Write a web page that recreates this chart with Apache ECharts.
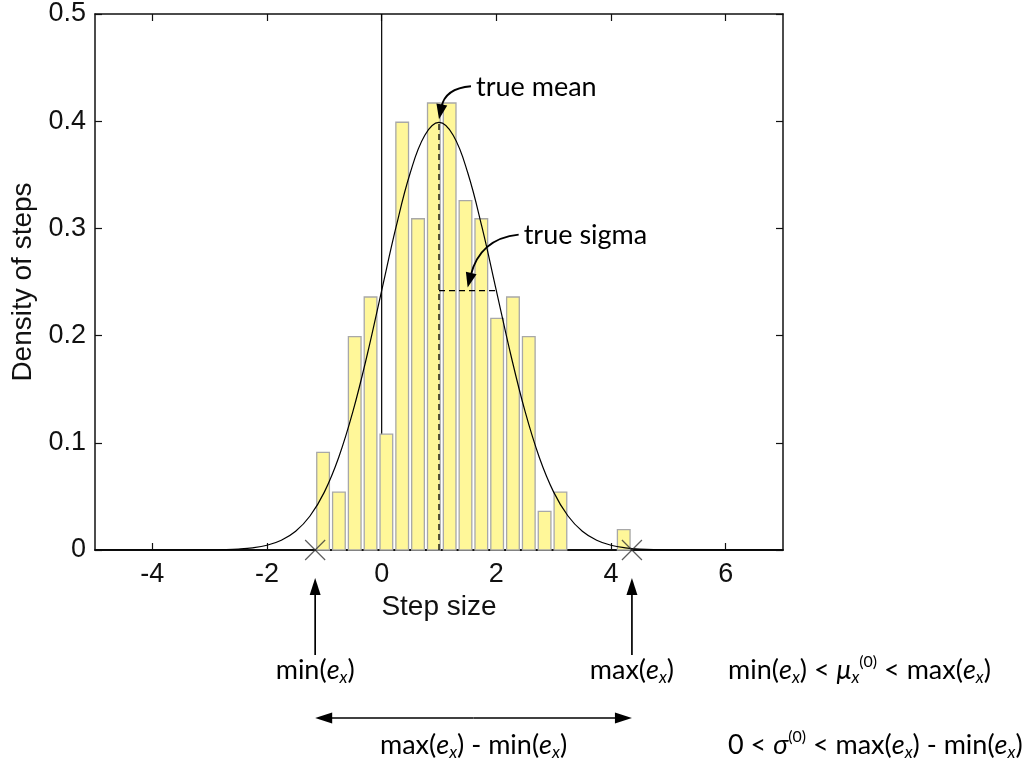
<!DOCTYPE html>
<html><head><meta charset="utf-8">
<script src="https://cdn.jsdelivr.net/npm/echarts@6/dist/echarts.min.js"></script>
<style>html,body{margin:0;padding:0;background:#fff}#c{width:1029px;height:761px}</style>
</head><body><div id="c"></div>
<script>
// ---- data ----
const binCenters = [-1.022,-0.746,-0.470,-0.194,0.082,0.358,0.634,0.910,1.186,1.462,1.738,2.014,2.290,2.566,2.842,3.118,3.394,3.670,3.946,4.222];
const densities  = [0.091,0.054,0.199,0.236,0.108,0.399,0.309,0.417,0.417,0.326,0.309,0.216,0.236,0.199,0.036,0.054,0,0,0,0.019];
const curveX = [-5,-4,-3.5,-3,-2.75,-2.5,-2.25,-2,-1.75,-1.5,-1.25,-1,-0.75,-0.5,-0.25,0,0.25,0.5,0.75,1,1.25,1.5,1.75,2,2.25,2.5,2.75,3,3.25,3.5,3.75,4,4.25,4.5,5,5.5,6,7];
const curveY = [0,0,0.00002,0.00013,0.00035,0.00087,0.0020,0.0044,0.0091,0.0175,0.0317,0.0540,0.0863,0.1295,0.1826,0.2420,0.3011,0.3521,0.3867,0.3989,0.3867,0.3521,0.3011,0.2420,0.1826,0.1295,0.0863,0.0540,0.0317,0.0175,0.0091,0.0044,0.0020,0.00087,0.00013,0.00002,0,0];
const xTicks = [-4,-2,0,2,4,6];
const yTicks = [0,0.1,0.2,0.3,0.4,0.5];
const zeroLineX = 0;
const trueMean = 1, trueSigma = 1, peakDensity = 0.399, sigmaDensity = 0.242;
const minE = -1.16, maxE = 4.365;
const binWidth = 0.276;

const chart = echarts.init(document.getElementById('c'), null, {renderer:'canvas'});
const axisCol = '#111';
const tickFont = {fontFamily:'Liberation Sans, Arial, sans-serif', fontSize:27, color:axisCol};
function xAx(pos, showLabel){
  return {type:'value', min:-5, max:7, position:pos, splitLine:{show:false},
    axisLine:{show:true, onZero:false, lineStyle:{color:axisCol, width: showLabel ? 2 : 1.5}},
    axisTick:{show:true, inside:true, length:7, customValues:xTicks, lineStyle:{color:axisCol, width:1.2}},
    axisLabel:Object.assign({show:showLabel, customValues:xTicks, margin:11}, tickFont),
    name: showLabel ? 'Step size' : '', nameLocation:'middle', nameGap:43,
    nameTextStyle:{fontFamily:'Liberation Sans, Arial, sans-serif', fontSize:28, color:axisCol}};
}
function yAx(pos, showLabel){
  return {type:'value', min:0, max:0.5, position:pos, splitLine:{show:false},
    axisLine:{show:true, onZero:false, lineStyle:{color:axisCol, width:1.5}},
    axisTick:{show:true, inside:true, length:7, customValues:yTicks, lineStyle:{color:axisCol, width:1.2}},
    axisLabel:Object.assign({show:showLabel, customValues:yTicks, margin:9}, tickFont),
    name: showLabel ? 'Density of steps' : '', nameLocation:'middle', nameGap:53,
    nameTextStyle:{fontFamily:'Liberation Sans, Arial, sans-serif', fontSize:28, color:axisCol}};
}

chart.setOption({
  animation:false,
  backgroundColor:'#fff',
  grid:{left:95, top:14, right:246, bottom:211, containLabel:false},
  xAxis:[xAx('bottom', true), xAx('top', false)],
  yAxis:[yAx('left', true), yAx('right', false)],
  series:[
    {type:'line', z:1, symbol:'none', data:[[zeroLineX,0],[zeroLineX,0.5]], lineStyle:{color:'#000', width:1.2}},
    {type:'custom', z:2, data:binCenters.map((c,i)=>[c, densities[i]]),
      renderItem:function(params, api){
        const c = api.value(0), v = api.value(1);
        if (!(v > 0)) return null;
        const half = binWidth * 0.4;
        const p1 = api.coord([c - half, v]);
        const p2 = api.coord([c + half, 0]);
        return {type:'rect', shape:{x:p1[0], y:p1[1], width:p2[0]-p1[0], height:p2[1]-p1[1]},
          style:{fill:'#fff799', stroke:'#a8a8a8', lineWidth:1.3}};
      }},
    {type:'line', z:3, symbol:'none', smooth:0.4, data:curveX.map((x,i)=>[x, curveY[i]]), lineStyle:{color:'#000', width:1.2}},
    {type:'line', z:4, symbol:'none', data:[[trueMean,0],[trueMean,peakDensity]], lineStyle:{color:'#000', width:1.3, type:[6,4]}},
    {type:'line', z:4, symbol:'none', data:[[trueMean,sigmaDensity],[trueMean+trueSigma,sigmaDensity]], lineStyle:{color:'#000', width:1.3, type:[6,4]}},
    {type:'scatter', z:5, clip:false, symbol:'path://M0,0L10,10M10,0L0,10', symbolSize:20,
      data:[[minE,0],[maxE,0]], itemStyle:{color:'none', borderColor:'#333', borderWidth:1.2}}
  ]
});

// ---- annotations anchored to data coordinates ----
const px = p => chart.convertToPixel({xAxisIndex:0, yAxisIndex:0}, p);
const F = 'Lato, "Open Sans", sans-serif';
const rich = {
  n:{fontFamily:F, fontSize:27, lineHeight:34, fill:'#000'},
  i:{fontFamily:F, fontSize:27, lineHeight:34, fontStyle:'italic', fill:'#000'},
  s:{fontFamily:F, fontSize:17, lineHeight:17, fontStyle:'italic', padding:[16,0,0,0], fill:'#000'},
  p:{fontFamily:F, fontSize:16, lineHeight:16, padding:[0,0,16,0], fill:'#000'}
};
function txt(x, y, text, align){
  return {type:'text', x:x, y:y, z:10, style:{text:text, rich:rich, align:align||'left', verticalAlign:'middle', fill:'#000', fontFamily:F, fontSize:27}};
}
function head(tip, from, len, wid){
  const dx = tip[0]-from[0], dy = tip[1]-from[1], L = Math.hypot(dx,dy);
  const ux = dx/L, uy = dy/L, bx = tip[0]-ux*len, by = tip[1]-uy*len, nx = -uy, ny = ux;
  return {type:'polygon', z:10, shape:{points:[[tip[0],tip[1]],[bx+nx*wid/2, by+ny*wid/2],[bx-nx*wid/2, by-ny*wid/2]]}, style:{fill:'#000'}};
}
function base(tip, from, len){
  const dx = tip[0]-from[0], dy = tip[1]-from[1], L = Math.hypot(dx,dy);
  return [tip[0]-dx/L*len, tip[1]-dy/L*len];
}
function curvedArrow(start, ctrl, tip){
  const b = base(tip, ctrl, 12);
  return [
    {type:'bezierCurve', z:10, shape:{x1:start[0], y1:start[1], x2:b[0], y2:b[1], cpx1:ctrl[0], cpy1:ctrl[1]}, style:{stroke:'#000', lineWidth:1.8, fill:null}},
    head(tip, ctrl, 15, 11)
  ];
}
function straightArrow(a, tip){
  const b = base(tip, a, 14);
  return [
    {type:'line', z:10, shape:{x1:a[0], y1:a[1], x2:b[0], y2:b[1]}, style:{stroke:'#000', lineWidth:1.7}},
    head(tip, a, 17, 11)
  ];
}

const peak = px([trueMean, peakDensity]);
const meanTip = [peak[0], peak[1]-3];
const meanStart = [meanTip[0]+32, meanTip[1]-33];
const sig = px([trueMean + trueSigma/2, sigmaDensity]);
const sigTip = [sig[0], sig[1]-3];
const sigStart = [sigTip[0]+51, sigTip[1]-53];
const pMin = px([minE, 0]), pMax = px([maxE, 0]);
const g = [];
g.push(...curvedArrow(meanStart, [meanTip[0]+6, meanStart[1]+2], meanTip));
g.push(txt(meanStart[0]+5, meanStart[1]+1, '{n|true mean}'));
g.push(...curvedArrow(sigStart, [sigTip[0]+12, sigStart[1]+4], sigTip));
g.push(txt(sigStart[0]+5, sigStart[1]+1, '{n|true sigma}'));
// vertical arrows from labels to min/max crosses
g.push(...straightArrow([pMin[0], pMin[1]+105], [pMin[0], pMin[1]+28]));
g.push(...straightArrow([pMax[0], pMax[1]+105], [pMax[0], pMax[1]+28]));
g.push(txt(pMin[0], pMin[1]+120, '{n|min(}{i|e}{s|x}{n|)}', 'center'));
g.push(txt(pMax[0], pMax[1]+120, '{n|max(}{i|e}{s|x}{n|)}', 'center'));
// double arrow for the range
const yR = pMin[1]+168;
const mid = [(pMin[0]+pMax[0])/2, yR];
g.push(...straightArrow(mid, [pMin[0], yR]));
g.push(...straightArrow(mid, [pMax[0], yR]));
g.push(txt(mid[0], pMin[1]+195, '{n|max(}{i|e}{s|x}{n|) - min(}{i|e}{s|x}{n|)}', 'center'));
// right-hand conditions
g.push(txt(728, pMin[1]+120, '{n|min(}{i|e}{s|x}{n|) < }{i|μ}{s|x}{p|(0)}{n| < max(}{i|e}{s|x}{n|)}'));
g.push(txt(728, pMin[1]+195, '{n|0 < }{i|σ}{p|(0)}{n| < max(}{i|e}{s|x}{n|) - min(}{i|e}{s|x}{n|)}'));
chart.setOption({graphic:g});
</script>
</body></html>
